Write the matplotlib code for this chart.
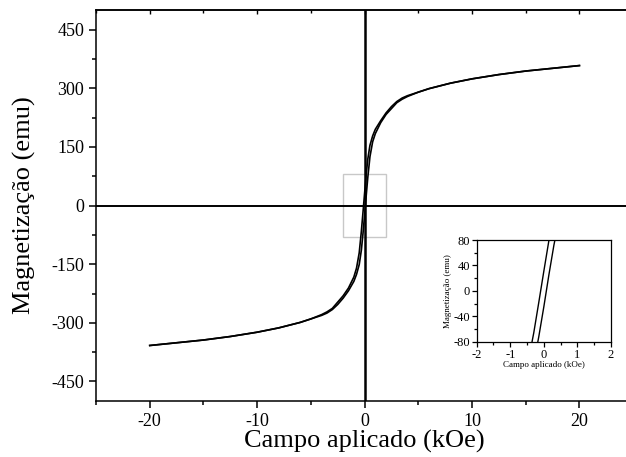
import matplotlib
matplotlib.use('Agg')
import matplotlib.pyplot as plt
from matplotlib.ticker import MultipleLocator
from matplotlib.patches import Rectangle

plt.rcParams['font.family'] = ['Liberation Serif', 'DejaVu Serif']
plt.rcParams['axes.unicode_minus'] = False

# campo aplicado (kOe)
H = [-20, -17.5, -15, -12.5, -10, -8, -7, -6, -5, -4, -3.5, -3, -2.5, -2, -1.5, -1, -0.75, -0.5, -0.3, -0.15,
     0, 0.15, 0.3, 0.5, 0.75, 1, 1.5, 2, 2.5, 3, 3.5, 4, 5, 6, 7, 8, 10, 12.5, 15, 17.5, 20]

# ramo descendente (de +20 para -20 kOe)
M_desc = [-358, -351, -344, -335, -324, -313, -306, -299, -290, -279, -272, -263, -247, -231, -211, -183, -160, -121, -66, -18,
          31, 79, 119, 154, 178, 195, 217, 237, 253, 266, 275, 281, 290, 299, 306, 313, 324, 335, 344, 351, 358]

# ramo ascendente (de -20 para +20 kOe)
M_asc = [-358, -351, -344, -335, -324, -313, -306, -299, -290, -281, -275, -266, -253, -237, -218, -194, -176, -151, -114, -72,
         -25, 25, 72, 125, 163, 184, 212, 233, 248, 263, 272, 279, 290, 299, 306, 313, 324, 335, 344, 351, 358]

fig = plt.figure(figsize=(6.26, 4.57), dpi=100)
ax = fig.add_axes([0.1534, 0.1225, 0.858, 0.8555])

ax.plot(H, M_desc, color='black', lw=1.2)
ax.plot(H, M_asc, color='black', lw=1.2)
ax.axhline(0, color='black', lw=1.4)
ax.axvline(0, color='black', lw=1.8)
ax.add_patch(Rectangle((-2, -80), 4, 160, fill=False, edgecolor='#c8c8c8', lw=1.0))

ax.set_xlim(-25, 25)
ax.set_ylim(-500, 500)
ax.xaxis.set_major_locator(MultipleLocator(10))
ax.xaxis.set_minor_locator(MultipleLocator(5))
ax.yaxis.set_major_locator(MultipleLocator(150))
ax.yaxis.set_minor_locator(MultipleLocator(75))
ax.tick_params(which='major', direction='out', length=5, width=1.1, labelsize=13)
ax.tick_params(which='minor', direction='out', length=3, width=1.1)
for s in ax.spines.values():
    s.set_linewidth(1.1)
ax.set_xlabel('Campo aplicado (kOe)', fontsize=19, labelpad=0)
ax.set_ylabel('Magnetização (emu)', fontsize=19, labelpad=11)

top = ax.secondary_xaxis('top')
top.xaxis.set_major_locator(MultipleLocator(10))
top.xaxis.set_minor_locator(MultipleLocator(5))
top.tick_params(which='major', direction='in', length=3, width=1.0, labeltop=False)
top.tick_params(which='minor', direction='in', length=2, width=1.0)
top.spines['top'].set_linewidth(1.1)

# inset
axi = fig.add_axes([0.7615, 0.2523, 0.2145, 0.2225])
axi.plot(H, M_desc, color='black', lw=1.0)
axi.plot(H, M_asc, color='black', lw=1.0)
axi.set_xlim(-2, 2)
axi.set_ylim(-80, 80)
axi.xaxis.set_major_locator(MultipleLocator(1))
axi.xaxis.set_minor_locator(MultipleLocator(0.5))
axi.yaxis.set_major_locator(MultipleLocator(40))
axi.yaxis.set_minor_locator(MultipleLocator(20))
axi.tick_params(which='major', direction='out', length=3.5, width=0.9, labelsize=9, pad=1.5)
axi.tick_params(which='minor', direction='out', length=2, width=0.9)
for s in axi.spines.values():
    s.set_linewidth(0.9)
axi.set_xlabel('Campo aplicado (kOe)', fontsize=6.5, labelpad=0)
axi.set_ylabel('Magnetização (emu)', fontsize=6.5, labelpad=1)

fig.savefig('out.png', dpi=100)
